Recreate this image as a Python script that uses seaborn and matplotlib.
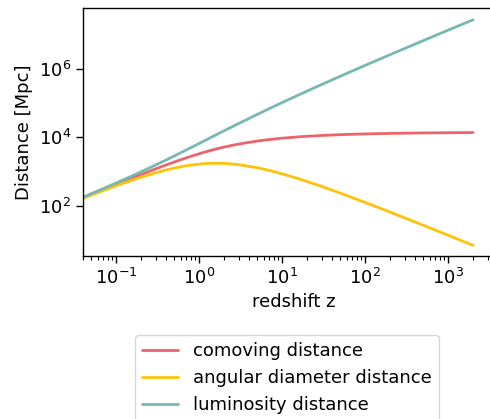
import matplotlib
matplotlib.use("Agg")
import matplotlib.pyplot as plt
from matplotlib.ticker import FixedLocator, NullLocator
import numpy as np
import pandas as pd
import seaborn as sns

# Redshift samples and the three cosmological distances in Mpc
redshift = [0.04, 0.06, 0.1, 0.15, 0.2, 0.3, 0.4, 0.5, 0.7, 1.0, 1.25, 1.5, 1.75,
            2.0, 2.5, 3, 5, 7, 10, 15, 20, 30, 50, 70, 100, 200, 500, 1000, 2000]
comoving = [169.8, 253.5, 418.5, 620.2, 816.7, 1194.4, 1551.5, 1888.5, 2505.7,
            3303.8, 3870.4, 4363.8, 4796.4, 5179.8, 5827.5, 6355.6, 7775.1, 8627.2,
            9439.8, 10245.0, 10742.0, 11345.7, 11964.7, 12298.6, 12598.4, 13051.5,
            13455.9, 13660.3, 13805.0]
angular = [163.3, 239.2, 380.5, 539.3, 680.6, 918.8, 1108.2, 1259.0, 1473.9,
           1651.9, 1720.2, 1745.5, 1744.1, 1726.6, 1665.0, 1588.9, 1295.9, 1078.4,
           858.2, 640.3, 511.5, 366.0, 234.6, 173.2, 124.7, 64.9, 26.86, 13.65, 6.90]
luminosity = [176.6, 268.7, 460.4, 713.2, 980.0, 1552.7, 2172.1, 2832.8, 4259.7,
              6607.6, 8708.4, 10909.5, 13190.1, 15539.4, 20396.3, 25422.4, 46650.6,
              69017.6, 103837.8, 163920, 225582, 351717, 610200, 873201, 1272438,
              2623352, 6741406, 13673960, 27623805]

series_names = ["comoving distance", "angular diameter distance", "luminosity distance"]
colors = ["#ec6469", "#ffc20a", "#77b9b2"]
y_ticks = [1e2, 1e4, 1e6]

df = pd.concat([
    pd.DataFrame({"z": redshift, "distance": vals, "kind": name})
    for name, vals in zip(series_names, [comoving, angular, luminosity])
], ignore_index=True)

sns.set_style("ticks")
plt.rcParams["font.family"] = ["DejaVu Sans"]
plt.rcParams["text.color"] = "black"
plt.rcParams["axes.labelcolor"] = "black"
plt.rcParams["xtick.color"] = "black"
plt.rcParams["ytick.color"] = "black"

fig = plt.figure(figsize=(4.9, 4.19), dpi=100)
ax = fig.add_axes([83 / 490, 163 / 419, 422 / 490, 248 / 419])

sns.lineplot(data=df, x="z", y="distance", hue="kind", hue_order=series_names,
             palette=colors, linewidth=2, ax=ax, sort=False, estimator=None)

ax.set_xscale("log")
ax.set_yscale("log")
ax.set_xlim(0.04, 4850)
ax.set_ylim(3.37, 6.1e7)
ax.yaxis.set_major_locator(FixedLocator(y_ticks))
ax.yaxis.set_minor_locator(NullLocator())
ax.set_xlabel("redshift z", fontsize=13)
ax.set_ylabel("Distance [Mpc]", fontsize=13)
ax.tick_params(axis="both", which="major", labelsize=13, length=5, width=1,
               colors="black")
ax.tick_params(axis="both", which="minor", length=3, width=0.8, colors="black")
for side in ["top", "right", "left", "bottom"]:
    ax.spines[side].set_visible(True)
    ax.spines[side].set_color("black")
    ax.spines[side].set_linewidth(1)

handles, labels = ax.get_legend_handles_labels()
ax.get_legend().remove()
leg = fig.legend(handles, labels, loc="upper center",
                 bbox_to_anchor=(287 / 490, 1 - 335 / 419), fontsize=13,
                 frameon=True, fancybox=True, handlelength=2.0,
                 borderaxespad=0)
leg.get_frame().set_edgecolor("#cccccc")

fig.savefig("out.png", dpi=100)
